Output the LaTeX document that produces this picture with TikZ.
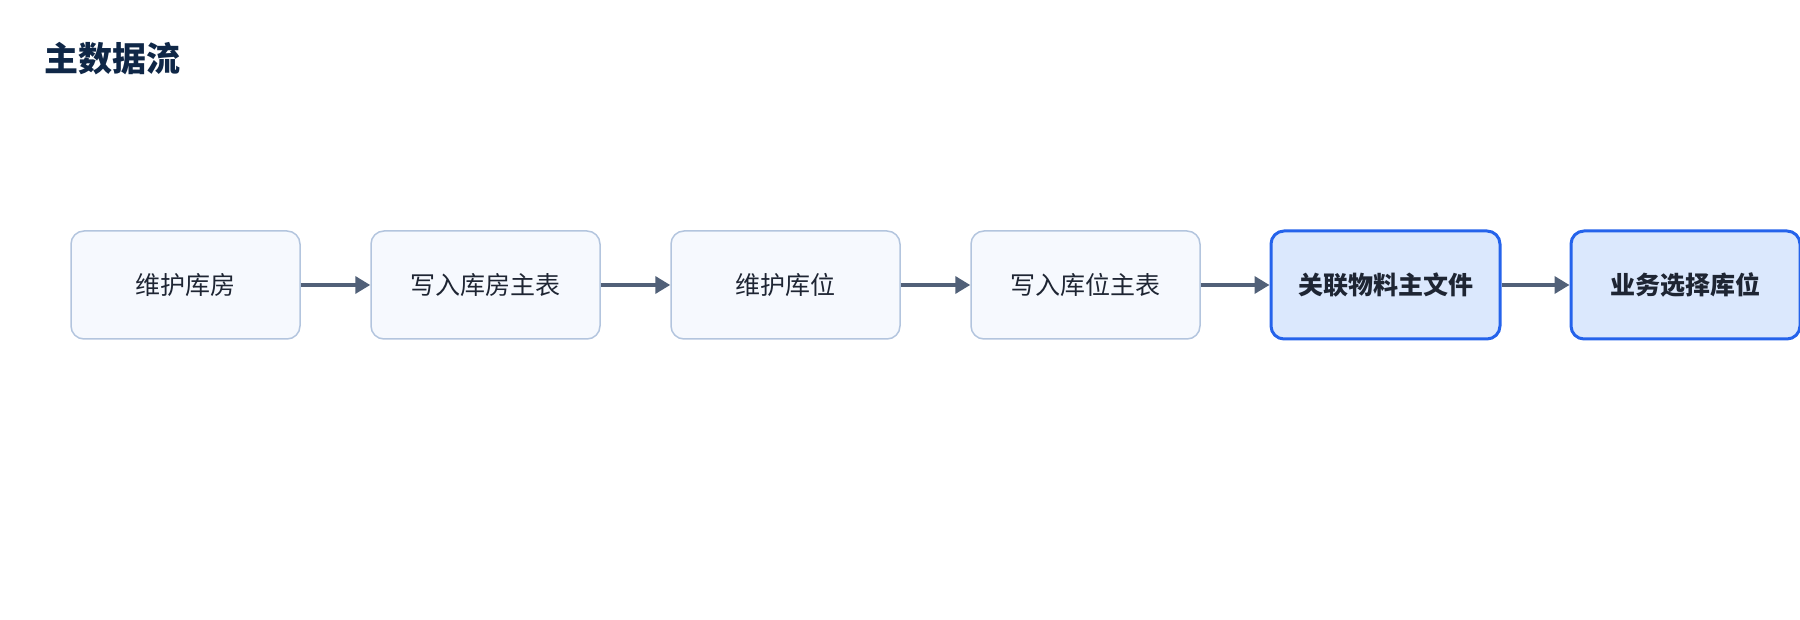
\documentclass[tikz,border=0pt]{standalone}
\usepackage{fontspec}
\setmainfont{Noto Sans CJK SC}
\usetikzlibrary{arrows.meta}
\definecolor{boxfill}{HTML}{F6F9FE}
\definecolor{boxline}{HTML}{B3C5DE}
\definecolor{hifill}{HTML}{DBE8FD}
\definecolor{hiline}{HTML}{2563EB}
\definecolor{arrowc}{HTML}{516078}
\definecolor{txt}{HTML}{1E2533}
\definecolor{titlec}{HTML}{0F2747}
\begin{document}
\begin{tikzpicture}[x=1pt,y=-1pt,
  stepbox/.style={draw=boxline, fill=boxfill, line width=1.5pt, rounded corners=13pt,
    minimum width=229pt, minimum height=108pt, inner sep=0pt, text=txt,
    font=\fontsize{25}{29}\selectfont},
  hibox/.style={stepbox, draw=hiline, fill=hifill, line width=3pt,
    font=\fontsize{25}{29}\selectfont\bfseries},
  flow/.style={draw=arrowc, line width=3.5pt, -{Triangle[length=15pt,width=17pt]}}]
\useasboundingbox (0,0) rectangle (1800,620);
\node[anchor=west, text=titlec, font=\fontsize{34}{39}\selectfont\bfseries, inner sep=0pt] (title) at (44,59) {主数据流};
\node[stepbox] (a) at (185.5,285) {维护库房};
\node[stepbox] (b) at (485.5,285) {写入库房主表};
\node[stepbox] (c) at (785.5,285) {维护库位};
\node[stepbox] (d) at (1085.5,285) {写入库位主表};
\node[hibox] (e) at (1385.5,285) {关联物料主文件};
\node[hibox] (f) at (1685.5,285) {业务选择库位};
\draw[flow] (a) -- (b);
\draw[flow] (b) -- (c);
\draw[flow] (c) -- (d);
\draw[flow] (d) -- (e);
\draw[flow] (e) -- (f);
\end{tikzpicture}
\end{document}
